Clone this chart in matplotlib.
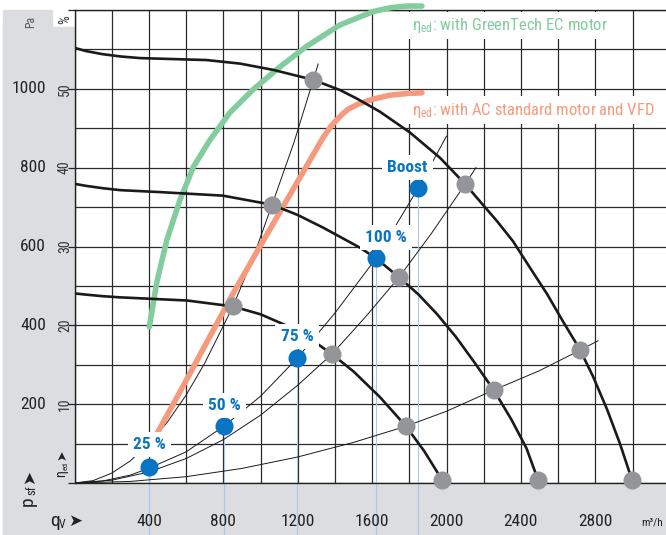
import matplotlib

matplotlib.use("Agg")
import matplotlib.pyplot as plt
from matplotlib.patches import Rectangle
from matplotlib.transforms import blended_transform_factory

FONTS = ["Roboto Condensed", "Liberation Sans Narrow", "Liberation Sans", "DejaVu Sans"]
plt.rcParams["font.family"] = FONTS
plt.rcParams["mathtext.fontset"] = "custom"
plt.rcParams["mathtext.rm"] = "Roboto Condensed"
plt.rcParams["mathtext.it"] = "Roboto Condensed"
plt.rcParams["mathtext.default"] = "regular"

# --- data: q_V in m³/h, p_sf in Pa, efficiency in % ----------------------------
boost_q = [0, 60, 150, 250, 352, 711, 890, 1069, 1282, 1427, 1519, 1642, 1804, 1965, 2099, 2272,
           2358, 2449, 2540, 2626, 2718, 2788, 2863, 2933, 2997]
boost_p = [1104, 1096, 1088, 1082, 1078, 1073, 1064, 1048, 1023, 997, 975, 942, 889, 825, 759, 664,
           613, 546, 480, 410, 338, 270, 187, 99, 8]

full_q = [0, 60, 150, 245, 460, 798, 1062, 1200, 1336, 1535, 1621, 1745, 1850, 1950, 2050,
          2150, 2255, 2350, 2430, 2492]
full_p = [759, 754, 748, 743, 738, 729, 706, 680, 648, 597, 570, 522, 478, 428, 371,
          306, 235, 160, 88, 8]

part_q = [0, 60, 150, 245, 605, 852, 1000, 1142, 1270, 1384, 1500, 1642, 1782, 1880, 1976]
part_p = [481, 478, 474, 471, 463, 448, 428, 399, 365, 327, 283, 218, 144, 81, 8]

# system curves (thin lines from the origin)
sysA_q = [0, 100, 200, 300, 400, 500, 600, 700, 852, 960, 1062, 1180, 1282, 1310]
sysA_p = [0, 6, 25, 56, 100, 155, 223, 304, 448, 571, 706, 864, 1020, 1063]
sysB_q = [0, 200, 400, 600, 800, 1000, 1200, 1384, 1560, 1745, 1920, 2099, 2158]
sysB_p = [0, 7, 28, 62, 110, 172, 248, 327, 419, 522, 634, 757, 800]
sysC_q = [0, 300, 600, 900, 1200, 1500, 1782, 2000, 2250, 2500, 2718, 2815]
sysC_p = [0, 4, 16, 37, 66, 103, 144, 182, 235, 285, 337, 361]
sysD_q = [0, 150, 300, 403, 600, 803, 1000, 1196, 1400, 1621, 1849, 2000]
sysD_p = [0, 5, 20, 38, 79, 144, 220, 316, 431, 570, 749, 880]

# efficiency curves (%)
green_q = [402, 442, 496, 567, 639, 728, 836, 960, 1105, 1248, 1427, 1605, 1700, 1788, 1868]
green_e = [19.8, 25.4, 30.8, 35.9, 40.1, 43.5, 47.0, 49.9, 52.8, 55.4, 58.1, 59.8, 60.3, 60.5, 60.5]
orange_q = [410, 444, 540, 637, 728, 854, 997, 1142, 1282, 1336, 1380, 1427, 1470, 1519, 1605,
            1696, 1788, 1868]
orange_e = [4.8, 6.3, 10.4, 14.6, 18.6, 24.1, 30.0, 35.9, 41.6, 43.8, 45.3, 46.5, 47.4, 48.0, 48.7,
            49.2, 49.4, 49.5]

# operating points
gray_q = [1282, 2099, 2718, 2997, 1062, 1745, 2255, 2492, 852, 1384, 1782, 1976]
gray_p = [1023, 759, 338, 8, 706, 522, 235, 8, 448, 327, 144, 8]
blue_q = [403, 803, 1196, 1621, 1849]
blue_p = [40, 144, 316, 570, 749]
blue_labels = ["25 %", "50 %", "75 %", "100 %", "Boost"]
blue_offsets = [(0, 23), (1, 21), (0, 22), (10, 21), (-11, 20)]

pa_ticks = [200, 400, 600, 800, 1000]
pct_ticks = ["10", "20", "30", "40", "50"]
q_ticks = [400, 800, 1200, 1600, 2000, 2400, 2800]

BLUE = "#0a74c4"
GRAY = "#939598"
GREEN = "#82cc9e"
ORANGE = "#f59a7c"
BAND = "#dcdde0"

W, H = 666, 535
fig = plt.figure(figsize=(W / 100, H / 100), dpi=100)
fig.patch.set_facecolor("white")


def fx(x):
    return x / W


def fy(y):
    return 1 - y / H


# grey label bands
fig.patches.append(Rectangle((fx(3), 0), fx(52) - fx(3), fy(10), transform=fig.transFigure,
                             color=BAND, zorder=-5))
fig.patches.append(Rectangle((fx(3), 0), 1, 1 - fy(508), transform=fig.transFigure,
                             color=BAND, zorder=-5))

ax = fig.add_axes([74.5 / W, 52 / H, 591.5 / W, 473 / H])
ax.set_xlim(0, 3180)
ax.set_ylim(0, 1200)
ax.set_xticks(range(0, 3200, 200))
ax.set_yticks(range(0, 1201, 200))
ax.set_yticks(range(100, 1200, 200), minor=True)
ax.tick_params(axis="x", length=0, labelbottom=False)
ax.tick_params(axis="y", which="major", length=5, width=0.9, color="#222", labelleft=False)
ax.tick_params(axis="y", which="minor", length=0)
ax.grid(True, which="both", color="#2a2a2a", lw=0.9)
ax.set_axisbelow(True)
for side in ["top", "left", "bottom"]:
    ax.spines[side].set_color("#222")
    ax.spines[side].set_linewidth(1.0)
ax.spines["right"].set_visible(False)

# light blue drop lines from the operating points
ax.vlines(blue_q, -140, blue_p, color="#a9c9ea", lw=0.8, clip_on=False, zorder=1.5)

# system curves
for q, p in [(sysA_q, sysA_p), (sysB_q, sysB_p), (sysC_q, sysC_p), (sysD_q, sysD_p)]:
    ax.plot(q, p, color="#1a1a1a", lw=0.7, zorder=2)

# efficiency curves (% axis: 1 % = 20 Pa)
ax.plot(green_q, [e * 20 for e in green_e], color=GREEN, lw=4, solid_capstyle="round",
        solid_joinstyle="round", clip_on=False, zorder=3)
ax.plot(orange_q, [e * 20 for e in orange_e], color=ORANGE, lw=4, solid_capstyle="round",
        solid_joinstyle="round", zorder=3)

# fan curves
for q, p in [(boost_q, boost_p), (full_q, full_p), (part_q, part_p)]:
    ax.plot(q, p, color="#1a1a1a", lw=1.9, solid_joinstyle="round", zorder=4)

ax.plot(gray_q, gray_p, "o", ms=13, color=GRAY, mec="none", zorder=5, clip_on=False)
ax.plot(blue_q, blue_p, "o", ms=13, color=BLUE, mec="none", zorder=5)

box = dict(boxstyle="square,pad=0.3", fc="white", ec="none")
for q, p, lab, (dx, dy) in zip(blue_q, blue_p, blue_labels, blue_offsets):
    ax.annotate(lab, (q, p), xytext=(dx, dy), textcoords="offset pixels", ha="center",
                va="center", color=BLUE, fontsize=12.5, fontweight="bold", bbox=box, zorder=6)

lbox = dict(boxstyle="square,pad=0.25", fc="white", ec="none")
ax.text(1812, 1160, r"$\eta_{ed}$: with GreenTech EC motor", color=GREEN, fontsize=12,
        va="center", ha="left", bbox=lbox, zorder=6)
ax.text(1812, 946, r"$\eta_{ed}$: with AC standard motor and VFD", color=ORANGE, fontsize=12,
        va="center", ha="left", bbox=lbox, zorder=6)

# axis labels
ty = blended_transform_factory(fig.transFigure, ax.transData)
for v, s in zip(pa_ticks, pct_ticks):
    fig.text(fx(46), v, str(v), transform=ty, ha="right", va="center", fontsize=12.5,
             color="#222")
    fig.text(fx(65), v, s, transform=ty, ha="center", va="center", fontsize=10,
             rotation=90, color="#333")
fig.text(fx(65), fy(20), "%", ha="center", va="center", fontsize=10, rotation=90, color="#333")
fig.text(fx(31), fy(22), "Pa", ha="center", va="center", fontsize=8.5, rotation=90, color="#555")

tx = blended_transform_factory(ax.transData, fig.transFigure)
for v in q_ticks:
    ax.text(v, fy(521), str(v), transform=tx, ha="center", va="center", fontsize=12.5,
            color="#222")
fig.text(fx(641), fy(522), "m³/h", ha="left", va="center", fontsize=8, color="#222")

fig.text(fx(50), fy(521), "q", ha="left", va="center", fontsize=14, color="#222")
fig.text(fx(59), fy(525), "V", ha="left", va="center", fontsize=8.5, color="#222")
fig.text(fx(68), fy(521), "➤", ha="left", va="center", fontsize=12, color="#222",
         family=["DejaVu Sans"])

fig.text(fx(28), fy(501), "p", ha="center", va="center", fontsize=14, rotation=90, color="#222")
fig.text(fx(32), fy(490), "sf", ha="center", va="center", fontsize=9, rotation=90, color="#222")
fig.text(fx(29), fy(477), "➤", ha="center", va="center", fontsize=12, rotation=90,
         color="#222", family=["DejaVu Sans"])

fig.text(fx(61), fy(474), "η", ha="center", va="center", fontsize=10, rotation=90, color="#222")
fig.text(fx(66), fy(466), "ed", ha="center", va="center", fontsize=6, rotation=90, color="#222")
fig.text(fx(62), fy(455), "➤", ha="center", va="center", fontsize=9, rotation=90,
         color="#222", family=["DejaVu Sans"])

fig.savefig("out.png", dpi=100)
